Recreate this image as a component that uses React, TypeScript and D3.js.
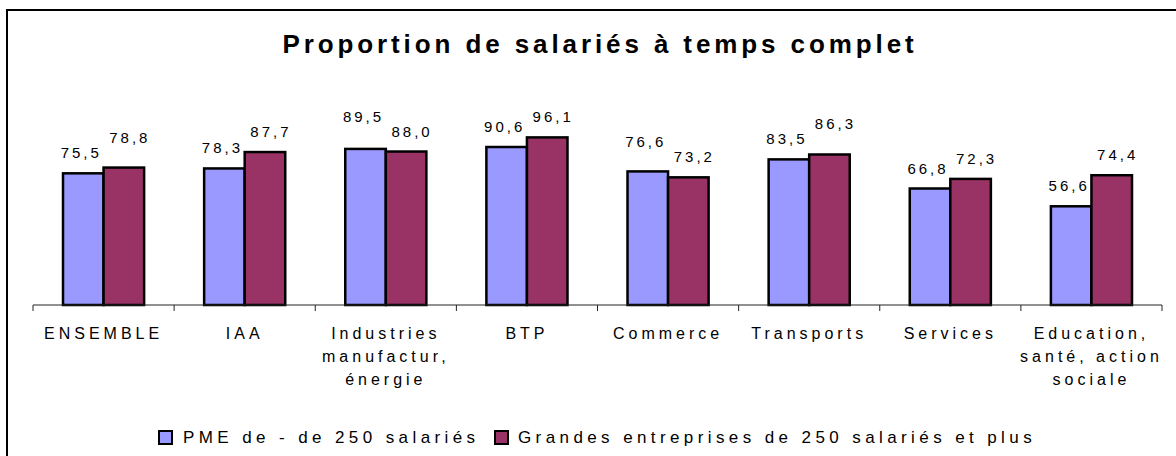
import React from "react";
import * as d3 from "d3";

const categories = [
  "ENSEMBLE",
  "IAA",
  "Industries\nmanufactur,\nénergie",
  "BTP",
  "Commerce",
  "Transports",
  "Services",
  "Education,\nsanté, action\nsociale",
];
const seriesNames = ["PME de - de 250 salariés", "Grandes entreprises de 250 salariés et plus"];
const pme = [75.5, 78.3, 89.5, 90.6, 76.6, 83.5, 66.8, 56.6];
const grandes = [78.8, 87.7, 88.0, 96.1, 73.2, 86.3, 72.3, 74.4];
const colors = ["#9999FF", "#993366"];

const W = 1176;
const H = 456;
const FONT = "'Liberation Sans', Arial, sans-serif";

const fr = d3.formatLocale({ decimal: ",", thousands: " ", grouping: [3], currency: ["", " €"] });
const fmt = fr.format(".1f");

export default function App() {
  const values = [pme, grandes];

  const x = d3.scaleBand<string>().domain(categories).range([33, 1162]).padding(0);
  const xs = d3
    .scaleBand<number>()
    .domain([0, 1])
    .range([0, x.bandwidth()])
    .paddingInner(0)
    .paddingOuter(0.74);
  const y = d3.scaleLinear().domain([0, 100]).range([305, 130.6]);
  const base = y(0);

  const ticks = categories.map((c) => x(c) as number).concat([x.range()[1]]);

  const legendItems = [
    { box: 159, text: 183 },
    { box: 495, text: 518 },
  ];

  // label baselines: lift the taller one when the two would collide
  const labelY = (i: number) => {
    const ys = values.map((v) => y(v[i]) - 15);
    if (Math.abs(ys[0] - ys[1]) < 7) {
      const hi = values[0][i] > values[1][i] ? 0 : 1;
      ys[hi] = ys[1 - hi] - 15;
    }
    return ys;
  };
  const nudge = [-2, 6];

  return (
    <svg
      width={W}
      height={H}
      style={{ position: "absolute", left: 0, top: 0, background: "#fff" }}
      fontFamily={FONT}
    >
      <rect x={0} y={0} width={W} height={H} fill="#fff" />
      <rect x={7} y={10} width={1200} height={500} fill="none" stroke="#000" strokeWidth={2} />

      <text
        x={600}
        y={53}
        textAnchor="middle"
        fontSize={26}
        fontWeight="bold"
        letterSpacing={3.9}
        fill="#000"
      >
        Proportion de salariés à temps complet
      </text>

      {categories.map((c, i) => {
        const ly = labelY(i);
        return (
          <g key={c} transform={`translate(${x(c)},0)`}>
            {values.map((vals, s) => {
              const top = y(vals[i]);
              const bx = xs(s) as number;
              return (
                <g key={s}>
                  <rect
                    x={bx}
                    y={top}
                    width={xs.bandwidth()}
                    height={base - top}
                    fill={colors[s]}
                    stroke="#000"
                    strokeWidth={2.5}
                  />
                  <text
                    x={bx + xs.bandwidth() / 2 + nudge[s]}
                    y={ly[s]}
                    textAnchor="middle"
                    fontSize={15}
                    letterSpacing={3}
                    fill="#000"
                  >
                    {fmt(vals[i])}
                  </text>
                </g>
              );
            })}
            <text x={x.bandwidth() / 2} y={339} textAnchor="middle" fontSize={16} letterSpacing={4} fill="#000">
              {c.split("\n").map((line, k) => (
                <tspan key={k} x={x.bandwidth() / 2} dy={k === 0 ? 0 : 23}>
                  {line}
                </tspan>
              ))}
            </text>
          </g>
        );
      })}

      <line x1={x.range()[0]} x2={x.range()[1]} y1={base} y2={base} stroke="#222" strokeWidth={1} />
      {ticks.map((t, i) => (
        <line key={i} x1={t} x2={t} y1={base} y2={base + 6} stroke="#222" strokeWidth={1} />
      ))}

      {seriesNames.map((name, s) => (
        <g key={name}>
          <rect
            x={legendItems[s].box}
            y={431}
            width={13}
            height={13}
            fill={colors[s]}
            stroke="#000"
            strokeWidth={2}
          />
          <text x={legendItems[s].text} y={443} fontSize={17} letterSpacing={4.4} fill="#000">
            {name}
          </text>
        </g>
      ))}
    </svg>
  );
}
